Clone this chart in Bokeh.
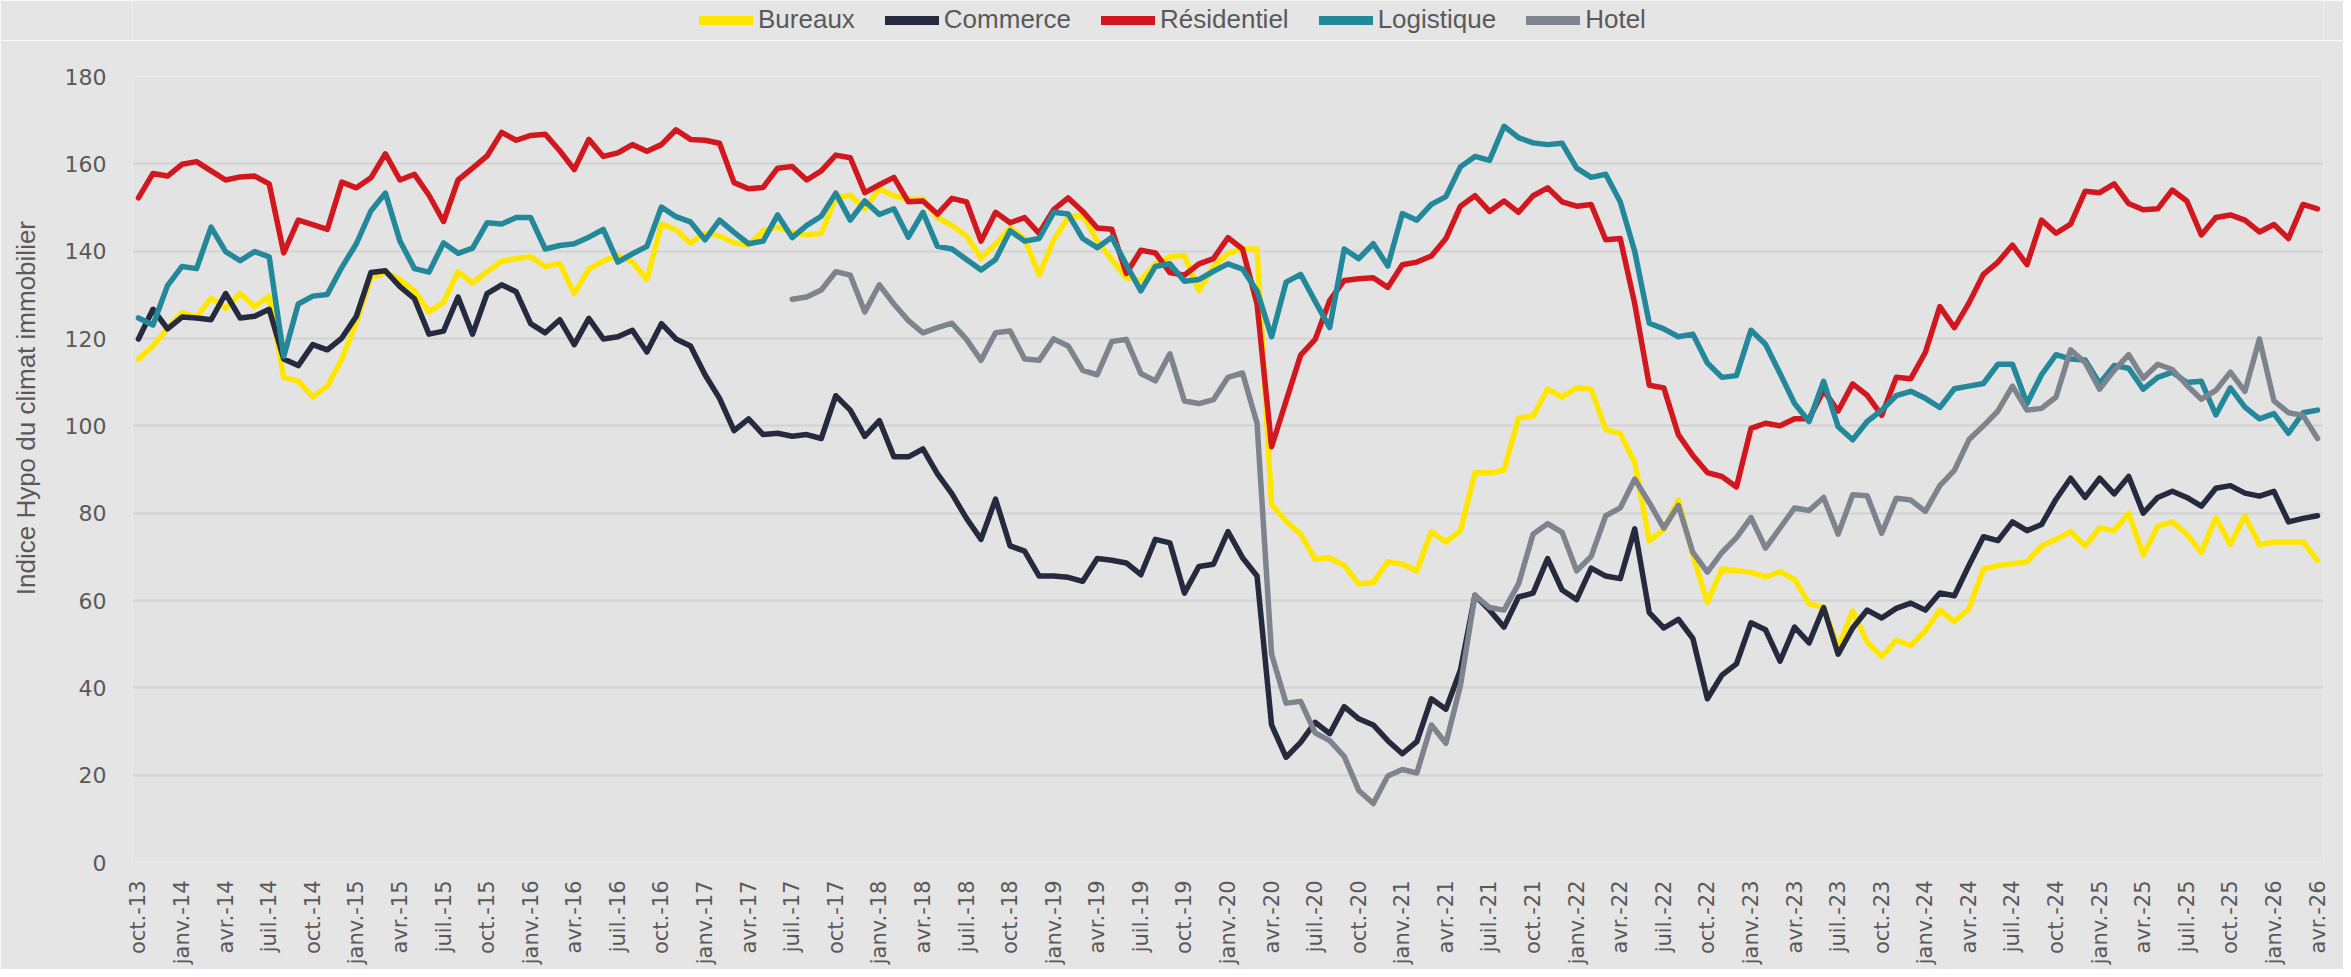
import math
from bokeh.plotting import figure
from bokeh.layouts import column
from bokeh.models import FixedTicker, Legend, LegendItem, Range1d
from bokeh.embed import file_html
from bokeh.resources import INLINE

# ---------------- data ----------------
tick_labels = [
    "oct.-13", "janv.-14", "avr.-14", "juil.-14", "oct.-14", "janv.-15", "avr.-15", "juil.-15",
    "oct.-15", "janv.-16", "avr.-16", "juil.-16", "oct.-16", "janv.-17", "avr.-17", "juil.-17",
    "oct.-17", "janv.-18", "avr.-18", "juil.-18", "oct.-18", "janv.-19", "avr.-19", "juil.-19",
    "oct.-19", "janv.-20", "avr.-20", "juil.-20", "oct.-20", "janv.-21", "avr.-21", "juil.-21",
    "oct.-21", "janv.-22", "avr.-22", "juil.-22", "oct.-22", "janv.-23", "avr.-23", "juil.-23",
    "oct.-23", "janv.-24", "avr.-24", "juil.-24", "oct.-24", "janv.-25", "avr.-25", "juil.-25",
    "oct.-25", "janv.-26", "avr.-26",
]

bureaux = [
    115.3, 118.3, 122.3, 125.9, 124.9, 129.3, 126.9, 130.3, 127.3, 129.7,
    111.1, 110.3, 106.6, 109.1, 115.3, 123.7, 134.0, 135.1, 133.5, 130.9,
    126.1, 128.3, 135.3, 132.7, 135.3, 137.7, 138.3, 138.7, 136.5, 137.2,
    130.3, 135.9, 137.8, 139.0, 137.5, 133.5, 146.2, 144.9, 141.9, 144.1,
    143.5, 141.9, 141.4, 144.7, 145.5, 144.3, 143.7, 144.1, 152.2, 152.8,
    149.7, 154.3, 152.7, 151.9, 151.9, 147.7, 145.9, 143.5, 138.4, 141.7,
    145.3, 142.9, 134.5, 142.6, 147.7, 148.3, 142.3, 138.1, 133.9, 133.3,
    137.1, 138.7, 139.0, 130.9, 136.5, 139.5, 140.5, 140.5, 82.0, 78.2,
    75.2, 69.5, 69.8, 68.0, 63.8, 64.1, 68.9, 68.3, 66.8, 75.8,
    73.4, 76.0, 89.3, 89.2, 89.9, 101.8, 102.2, 108.4, 106.6, 108.7,
    108.4, 99.2, 98.2, 91.6, 73.7, 76.2, 83.0, 70.4, 59.6, 67.2,
    66.8, 66.5, 65.4, 66.6, 64.8, 59.3, 58.4, 49.2, 57.6, 50.5,
    47.2, 50.9, 49.7, 53.1, 57.8, 55.2, 58.1, 67.2, 68.0, 68.4,
    68.9, 72.5, 74.0, 75.8, 72.5, 76.6, 76.0, 80.0, 70.4, 77.0,
    78.0, 75.2, 71.0, 79.0, 72.8, 79.4, 72.8, 73.4, 73.4, 73.4,
    69.2,
]

commerce = [
    119.9, 126.7, 122.2, 124.9, 124.7, 124.3, 130.3, 124.7, 125.1, 126.7,
    115.3, 113.8, 118.6, 117.4, 120.1, 125.1, 135.1, 135.5, 131.9, 129.1,
    121.0, 121.7, 129.5, 121.0, 130.3, 132.3, 130.7, 123.4, 121.3, 124.3,
    118.6, 124.6, 119.9, 120.4, 121.9, 116.9, 123.4, 119.9, 118.3, 111.7,
    106.3, 98.9, 101.6, 98.0, 98.3, 97.6, 98.0, 97.1, 106.9, 103.6,
    97.6, 101.2, 92.9, 92.9, 94.7, 89.0, 84.4, 78.8, 74.0, 83.2,
    72.5, 71.3, 65.6, 65.6, 65.3, 64.4, 69.6, 69.2, 68.6, 65.9,
    74.0, 73.2, 61.7, 67.8, 68.3, 75.8, 69.8, 65.6, 31.5, 24.1,
    27.5, 32.1, 29.5, 35.7, 32.9, 31.5, 27.9, 24.9, 27.7, 37.5,
    35.1, 44.1, 61.2, 57.8, 53.9, 60.8, 61.7, 69.6, 62.4, 60.2,
    67.4, 65.6, 65.0, 76.4, 57.2, 53.7, 55.7, 51.3, 37.5, 42.9,
    45.5, 54.9, 53.3, 46.1, 53.9, 50.3, 58.4, 47.7, 53.7, 57.8,
    56.0, 58.2, 59.4, 57.8, 61.7, 61.1, 68.0, 74.6, 73.7, 78.0,
    76.0, 77.4, 83.2, 88.0, 83.6, 88.0, 84.4, 88.4, 80.0, 83.6,
    85.0, 83.6, 81.6, 85.7, 86.3, 84.6, 83.9, 85.0, 78.0, 78.8,
    79.4,
]

residentiel = [
    152.2, 157.8, 157.2, 159.9, 160.5, 158.4, 156.3, 157.0, 157.2, 155.4,
    139.6, 147.1, 146.1, 145.0, 155.8, 154.5, 156.8, 162.3, 156.3, 157.6,
    152.8, 146.8, 156.3, 159.0, 161.8, 167.2, 165.4, 166.5, 166.8, 163.0,
    158.7, 165.6, 161.7, 162.5, 164.4, 162.9, 164.4, 167.8, 165.6, 165.4,
    164.7, 155.7, 154.3, 154.6, 159.0, 159.4, 156.3, 158.4, 162.0, 161.4,
    153.4, 155.2, 156.9, 151.3, 151.5, 148.5, 152.1, 151.3, 142.3, 148.9,
    146.5, 147.7, 144.1, 149.5, 152.2, 149.1, 145.3, 145.0, 134.9, 140.2,
    139.6, 135.1, 134.5, 137.1, 138.3, 143.1, 140.5, 127.9, 95.2, 105.7,
    116.2, 119.8, 128.7, 133.3, 133.7, 133.9, 131.7, 136.9, 137.5, 138.9,
    142.9, 150.3, 152.7, 149.1, 151.5, 148.9, 152.7, 154.5, 151.3, 150.3,
    150.7, 142.6, 142.9, 127.9, 109.3, 108.7, 98.0, 93.2, 89.3, 88.4,
    86.0, 99.4, 100.6, 100.0, 101.6, 101.6, 108.1, 103.4, 109.6, 107.0,
    102.4, 111.1, 110.8, 116.8, 127.3, 122.5, 128.1, 134.7, 137.5, 141.4,
    136.9, 147.1, 144.1, 146.2, 153.7, 153.4, 155.4, 150.9, 149.5, 149.7,
    154.0, 151.5, 143.7, 147.7, 148.3, 147.1, 144.4, 146.1, 142.9, 150.7,
    149.7,
]

logistique = [
    124.7, 123.1, 132.1, 136.5, 136.0, 145.5, 139.9, 137.8, 139.9, 138.7,
    115.9, 127.9, 129.7, 130.1, 136.3, 141.7, 149.2, 153.3, 142.3, 136.0,
    135.2, 141.9, 139.5, 140.7, 146.5, 146.2, 147.7, 147.7, 140.5, 141.3,
    141.7, 143.2, 145.0, 137.5, 139.4, 141.1, 150.1, 147.9, 146.7, 142.6,
    147.1, 144.3, 141.7, 142.3, 148.3, 143.1, 145.9, 148.0, 153.3, 147.1,
    151.5, 148.4, 149.7, 143.2, 148.9, 141.1, 140.5, 138.1, 135.7, 138.1,
    144.7, 142.3, 142.9, 148.9, 148.5, 142.9, 140.8, 143.2, 136.9, 130.9,
    136.5, 137.1, 133.1, 133.5, 135.4, 137.1, 135.9, 130.9, 120.4, 132.9,
    134.7, 128.5, 122.5, 140.5, 138.3, 141.7, 136.6, 148.6, 147.1, 150.7,
    152.5, 159.3, 161.7, 160.8, 168.6, 166.0, 164.8, 164.4, 164.7, 159.0,
    156.9, 157.6, 151.3, 139.9, 123.5, 122.2, 120.4, 121.0, 114.4, 111.1,
    111.5, 121.9, 118.7, 112.0, 105.1, 101.0, 110.2, 99.8, 96.8, 101.0,
    103.6, 106.9, 107.9, 106.3, 104.2, 108.5, 109.1, 109.7, 114.1, 114.1,
    105.1, 111.7, 116.3, 115.3, 115.1, 109.7, 113.8, 113.2, 108.4, 111.1,
    112.3, 109.9, 110.2, 102.5, 108.7, 104.3, 101.6, 102.8, 98.3, 103.0,
    103.6,
]

hotel_start = 45  # first month with a Hotel value (juil.-17)
hotel = [
    129.0, 129.5, 131.1, 135.3, 134.5, 126.1, 132.3, 127.9, 124.1, 121.3,
    122.5, 123.5, 119.8, 115.0, 121.3, 121.7, 115.3, 115.0, 119.9, 118.3,
    112.7, 111.7, 119.3, 119.8, 112.0, 110.3, 116.5, 105.7, 105.1, 106.0,
    111.1, 112.1, 100.6, 47.7, 36.5, 36.9, 29.7, 27.9, 24.3, 16.5,
    13.5, 19.8, 21.3, 20.5, 31.5, 27.3, 40.5, 61.2, 58.4, 57.8,
    63.8, 75.2, 77.6, 75.6, 66.8, 70.1, 79.4, 81.2, 87.8, 82.4,
    76.6, 81.8, 71.0, 66.5, 71.0, 74.4, 79.0, 72.0, 76.6, 81.2,
    80.6, 83.6, 75.2, 84.2, 84.0, 75.4, 83.4, 83.0, 80.4, 86.3,
    89.8, 96.8, 100.0, 103.4, 109.1, 103.6, 104.0, 106.6, 117.4, 114.5,
    108.4, 112.7, 116.3, 110.9, 114.1, 112.9, 109.3, 106.1, 108.1, 112.3,
    107.9, 119.9, 105.7, 103.0, 102.4, 97.1,
]

series_names = ["Bureaux", "Commerce", "Résidentiel", "Logistique", "Hotel"]
series_colors = ["#FFE600", "#262A3E", "#D2181E", "#23899A", "#7E848E"]
y_ticks = [0, 20, 40, 60, 80, 100, 120, 140, 160, 180]
y_title = "Indice Hypo  du climat immobilier"

months = list(range(len(bureaux)))
tick_positions = [3 * k for k in range(len(tick_labels))]

BG = "#e3e3e3"
BORDER = "#e5e5e5"
TXT = "#595959"
W = 2343
NAN = float("nan")

# ---------------- legend strip ----------------
# (its frame is aligned with the chart frame by the column layout)
leg = figure(
    width=W, height=40, output_backend="svg", toolbar_location=None,
    x_axis_type=None, y_axis_type=None, min_border=0,
    x_range=Range1d(0, 1), y_range=Range1d(0, 1),
    background_fill_color=BORDER, border_fill_color=BORDER, outline_line_color=None,
)
items = []
for name, col in zip(series_names, series_colors):
    # swatch-only renderer (a single missing point draws nothing in the plot)
    r = leg.line([NAN], [NAN], line_color=col, line_width=9, line_cap="round")
    items.append(LegendItem(label=name, renderers=[r]))
legend = Legend(
    items=items, orientation="horizontal", location=(567, 5),
    glyph_width=54, glyph_height=30, label_height=30, label_standoff=5, spacing=30,
    padding=0, margin=0, border_line_color=None, background_fill_alpha=0,
    label_text_font="Liberation Sans", label_text_font_size="26px",
    label_text_color=TXT, label_text_baseline="middle",
)
leg.add_layout(legend)

# ---------------- main chart ----------------
p = figure(
    width=W, height=929,
    output_backend="svg", toolbar_location=None,
    x_range=Range1d(-0.41, len(months) - 1 + 0.41),
    y_range=Range1d(0, 180),
    min_border_left=132, min_border_right=20,
    min_border_top=36, min_border_bottom=107,
    background_fill_color=BG,
    border_fill_color=BORDER,
    outline_line_color=None,
)

series = [
    (months, bureaux),
    (months, commerce),
    (months, residentiel),
    (months, logistique),
    (months[hotel_start:hotel_start + len(hotel)], hotel),
]
for (xs, ys), col in zip(series, series_colors):
    p.line(xs, ys, line_color=col, line_width=5.5, line_join="round", line_cap="round")

# x axis
p.xaxis.ticker = FixedTicker(ticks=tick_positions)
p.xaxis.major_label_overrides = {t: lab for t, lab in zip(tick_positions, tick_labels)}
p.xaxis.major_label_orientation = math.pi / 2
p.xaxis.major_label_text_font = "DejaVu Sans"
p.xaxis.major_label_text_font_size = "21px"
p.xaxis.major_label_text_color = TXT
p.xaxis.major_label_standoff = 18
p.xaxis.axis_line_color = None
p.xaxis.major_tick_line_color = None
p.xaxis.minor_tick_line_color = None
p.xaxis.major_tick_out = 0
p.xaxis.major_tick_in = 0

# y axis
p.yaxis.ticker = FixedTicker(ticks=y_ticks)
p.yaxis.major_label_text_font = "DejaVu Sans"
p.yaxis.major_label_text_font_size = "22px"
p.yaxis.major_label_text_color = TXT
p.yaxis.major_label_standoff = 26
p.yaxis.axis_line_color = None
p.yaxis.major_tick_line_color = None
p.yaxis.minor_tick_line_color = None
p.yaxis.major_tick_out = 0
p.yaxis.major_tick_in = 0
# leading no-break spaces shift the centred title upward like in the reference
p.yaxis.axis_label = "\u00a0" * 18 + y_title
p.yaxis.axis_label_text_font = "Liberation Sans"
p.yaxis.axis_label_text_font_size = "26px"
p.yaxis.axis_label_text_font_style = "normal"
p.yaxis.axis_label_text_color = TXT
p.yaxis.axis_label_standoff = 21

p.xgrid.visible = False
p.ygrid.grid_line_color = "#d2d2d2"
p.ygrid.grid_line_width = 2

layout = column(leg, p, spacing=0)
open("out.html", "w").write(file_html(layout, INLINE))
